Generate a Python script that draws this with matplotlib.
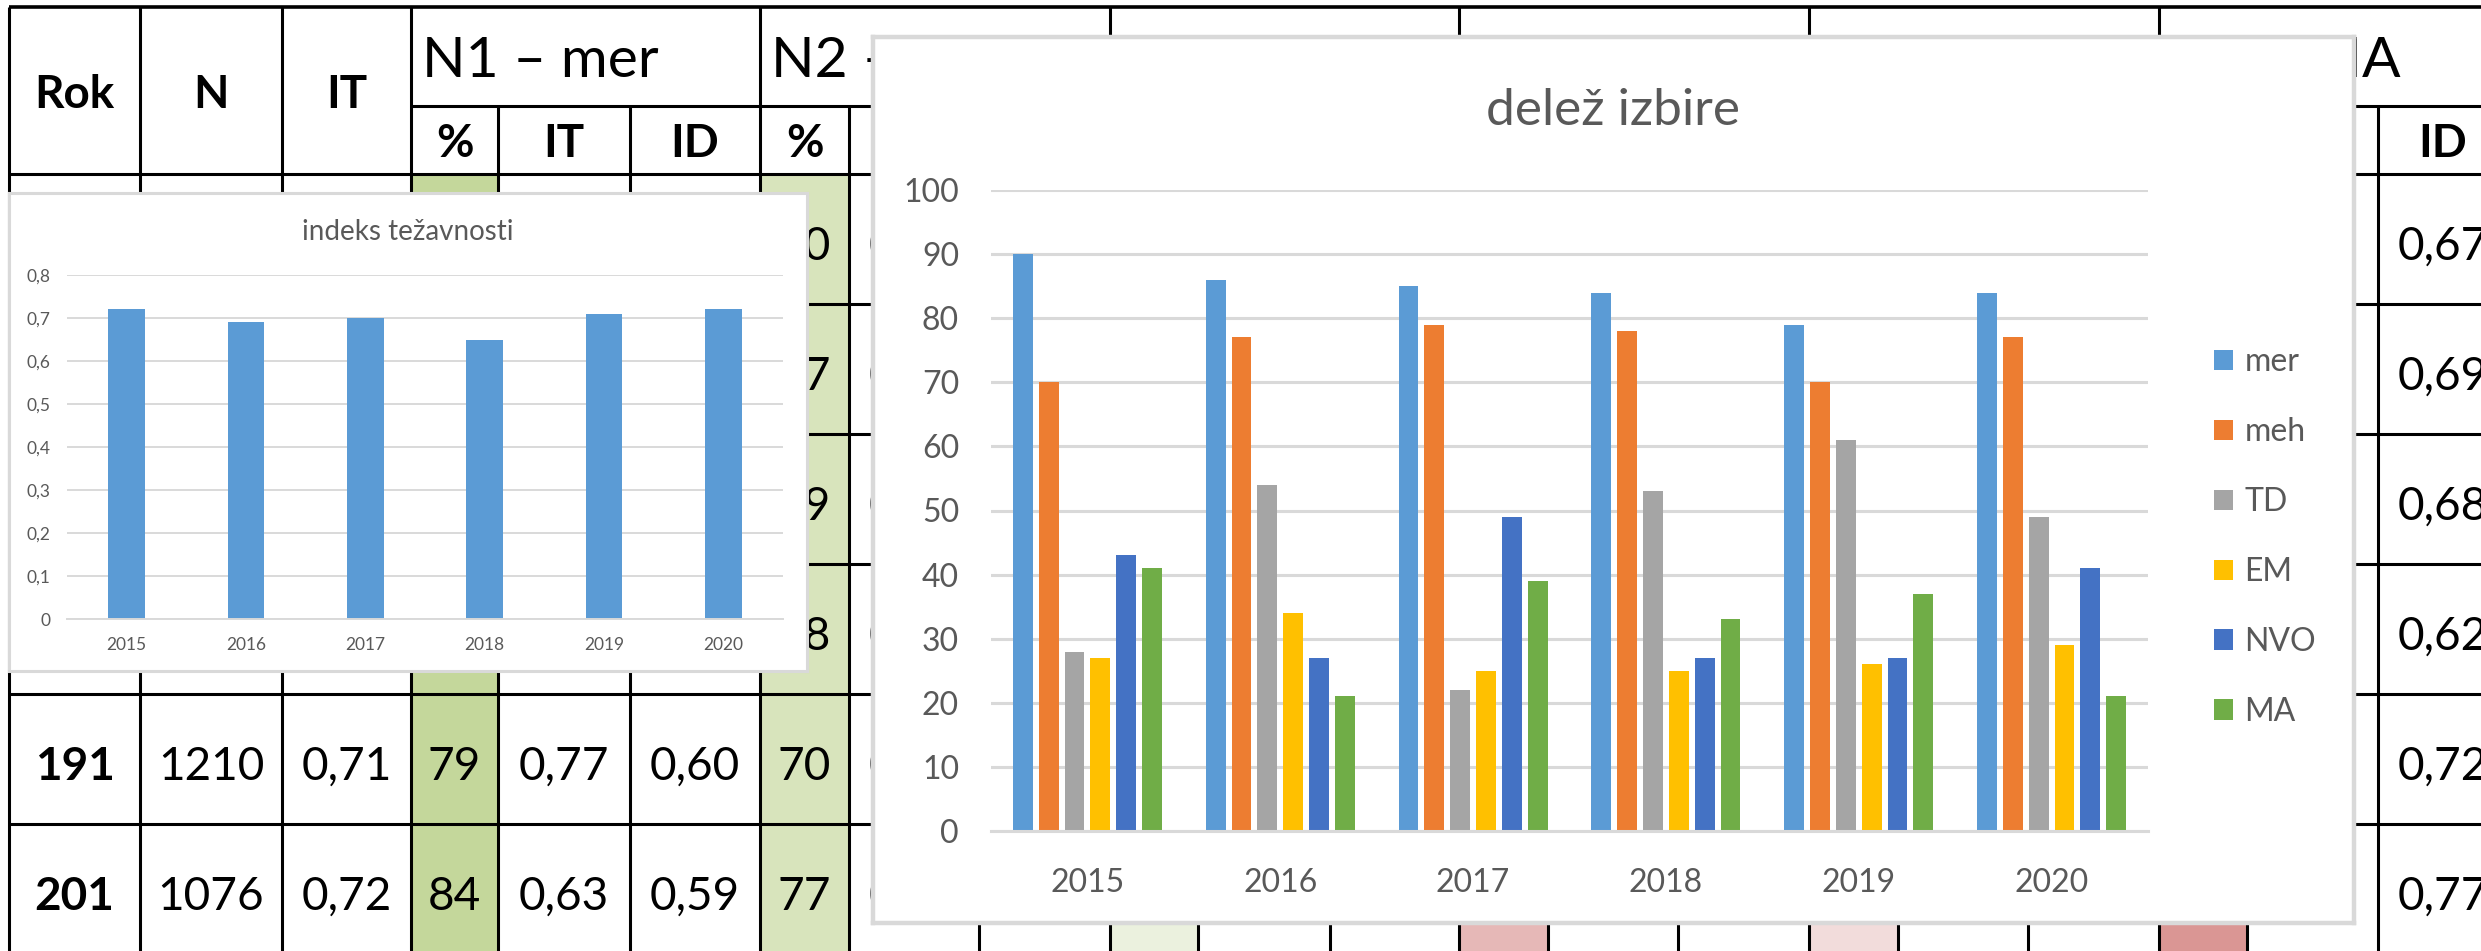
import matplotlib.pyplot as plt
import numpy as np

plt.rcParams['font.family'] = ['Lato', 'DejaVu Sans']

W, H = 2481, 951

years = ["2015", "2016", "2017", "2018", "2019", "2020"]

# indeks težavnosti (small chart)
difficulty = [0.72, 0.69, 0.70, 0.65, 0.71, 0.72]

# delež izbire (big chart)
series = ["mer", "meh", "TD", "EM", "NVO", "MA"]
share_mer = [90, 86, 85, 84, 79, 84]
share_meh = [70, 77, 79, 78, 70, 77]
share_td = [28, 54, 22, 53, 61, 49]
share_em = [27, 34, 25, 25, 26, 29]
share_nvo = [43, 27, 49, 27, 27, 41]
share_ma = [41, 21, 39, 33, 37, 21]
shares = [share_mer, share_meh, share_td, share_em, share_nvo, share_ma]
colors = ["#5b9bd5", "#ed7d31", "#a5a5a5", "#ffc000", "#4472c4", "#70ad47"]

# table in the background (mostly covered by the charts)
rok = ["", "", "", "", "191", "201"]
n_students = ["", "", "", "", "1210", "1076"]
n1_it = ["", "", "", "", "0,77", "0,63"]
n1_id = ["", "", "", "", "0,60", "0,59"]
n2_it = ["0,70", "0,71", "0,70", "0,72", "0,70", "0,71"]
n6_it = ["0,71", "0,73", "0,71", "0,71", "0,77", "0,75"]
n6_id = ["0,67", "0,69", "0,68", "0,62", "0,72", "0,77"]
group_names = ["N1 – mer", "N2 – meh", "N3 – TD", "N4 – EM", "N5 – NVO", "N6 – MA"]
pct_fill = ["#c4d79b", "#d8e4bc", "#ebf1de", "#e6b8b7", "#f2dcdb", "#da9694"]

col_x = [9, 140, 282, 411, 498, 630, 760, 849, 979, 1110, 1198, 1330,
         1459, 1548, 1678, 1809, 1898, 2028, 2159, 2247, 2378, 2508]
row_y = [7, 106, 174, 304, 434, 564, 694, 824, 954]

fig = plt.figure(figsize=(W / 100, H / 100), dpi=100)


def px_axes(x0, y0, x1, y1, z):
    return fig.add_axes([x0 / W, 1 - y1 / H, (x1 - x0) / W, (y1 - y0) / H], zorder=z)


# ---- table ----
ax_tab = px_axes(0, 0, W, H, 0)
ax_tab.set_xlim(0, W)
ax_tab.set_ylim(H, 0)
ax_tab.axis("off")

for g in range(6):
    x0 = col_x[3 + 3 * g]
    x1 = col_x[4 + 3 * g]
    ax_tab.add_patch(plt.Rectangle((x0, row_y[2]), x1 - x0, row_y[-1] - row_y[2],
                                   color=pct_fill[g], lw=0))

lw_tab = 2.2
ax_tab.hlines(row_y[0], col_x[0], 2600, color="black", lw=2.6)
ax_tab.hlines(row_y[1], col_x[3], 2600, color="black", lw=lw_tab)
ax_tab.hlines(row_y[2:], col_x[0], 2600, color="black", lw=lw_tab)
for j, x in enumerate(col_x):
    top = row_y[0] if (j <= 3 or j % 3 == 0) else row_y[1]
    ax_tab.vlines(x, top, row_y[-1], color="black", lw=lw_tab)


def cx(j):
    return (col_x[j] + col_x[j + 1]) / 2


head_y = (row_y[0] + row_y[2]) / 2
for j, name in enumerate(["Rok", "N", "IT"]):
    ax_tab.text(cx(j), head_y, name, ha="center", va="center_baseline",
                fontsize=33, fontweight="bold")
for g in range(6):
    ax_tab.text(col_x[3 + 3 * g] + 11, 77, group_names[g], ha="left", va="baseline",
                fontsize=41)
    for k, name in enumerate(["%", "IT", "ID"]):
        ax_tab.text(cx(3 + 3 * g + k), (row_y[1] + row_y[2]) / 2, name, ha="center",
                    va="center_baseline", fontsize=33, fontweight="bold")

columns = {
    0: rok,
    1: n_students,
    2: ["" if r == "" else f"{v:.2f}".replace(".", ",") for r, v in zip(rok, difficulty)],
    3: [str(v) for v in share_mer],
    4: n1_it,
    5: n1_id,
    6: [str(v) for v in share_meh],
    7: n2_it,
    19: n6_it,
    20: n6_id,
}
for j, vals in columns.items():
    for r, v in enumerate(vals):
        yc = (row_y[2 + r] + row_y[3 + r]) / 2 + 4
        ax_tab.text(cx(j), yc, v, ha="center", va="center_baseline", fontsize=33,
                    fontweight="bold" if j == 0 else "normal")

grey_txt = "#595959"
grid_c = "#d9d9d9"

# ---- small chart: indeks težavnosti ----
box_s = px_axes(9, 193, 807, 671, 2)
box_s.set_xticks([])
box_s.set_yticks([])
for sp in box_s.spines.values():
    sp.set_color(grid_c)
    sp.set_linewidth(2.2)
box_s.text(408, 240, "indeks težavnosti", transform=ax_tab.transData, ha="center",
           va="baseline", fontsize=20, color=grey_txt)

ax_s = px_axes(67, 275, 783, 619, 3)
ax_s.set_facecolor("none")
x = np.arange(len(years))
ax_s.bar(x, difficulty, width=0.31, color="#5b9bd5", zorder=2)
ax_s.set_xlim(-0.5, 5.5)
ax_s.set_ylim(0, 0.8)
yt = np.round(np.arange(0, 0.81, 0.1), 1)
ax_s.set_yticks(yt)
ax_s.set_yticklabels(["0" if v == 0 else f"{v:.1f}".replace(".", ",") for v in yt])
ax_s.set_xticks(x)
ax_s.set_xticklabels(years)
ax_s.yaxis.grid(True, color=grid_c, lw=1.4, zorder=0)
ax_s.set_axisbelow(True)
for s in ["top", "right", "left"]:
    ax_s.spines[s].set_visible(False)
ax_s.spines["bottom"].set_color(grid_c)
ax_s.spines["bottom"].set_linewidth(1.4)
ax_s.tick_params(axis="x", length=0, labelsize=12.5, colors=grey_txt, pad=13)
ax_s.tick_params(axis="y", length=0, labelsize=12.5, colors=grey_txt, pad=12)

# ---- big chart: delež izbire ----
box_b = px_axes(873, 37, 2354, 923, 4)
box_b.set_xticks([])
box_b.set_yticks([])
for sp in box_b.spines.values():
    sp.set_color(grid_c)
    sp.set_linewidth(3.2)
box_b.text(1613.5, 125, "delež izbire", transform=ax_tab.transData, ha="center",
           va="baseline", fontsize=37, color=grey_txt)

ax_b = px_axes(991, 190, 2148, 831, 5)
ax_b.set_facecolor("none")
bar_w = 0.103
pitch = 0.134
handles = []
for i, (vals, c) in enumerate(zip(shares, colors)):
    h = ax_b.bar(x + (i - 2.5) * pitch, vals, width=bar_w, color=c, zorder=2)
    handles.append(h)
ax_b.set_xlim(-0.5, 5.5)
ax_b.set_ylim(0, 100)
ax_b.set_yticks(np.arange(0, 101, 10))
ax_b.set_xticks(x)
ax_b.set_xticklabels(years)
ax_b.yaxis.grid(True, color=grid_c, lw=2.2, zorder=0)
ax_b.set_axisbelow(True)
for s in ["top", "right", "left"]:
    ax_b.spines[s].set_visible(False)
ax_b.spines["bottom"].set_color(grid_c)
ax_b.spines["bottom"].set_linewidth(2.2)
ax_b.tick_params(axis="x", length=0, labelsize=23, colors=grey_txt, pad=27)
ax_b.tick_params(axis="y", length=0, labelsize=23, colors=grey_txt, pad=23)

ax_b.legend(handles, series, loc="center left", bbox_to_anchor=(2214, 537),
            bbox_transform=ax_tab.transData, frameon=False, fontsize=23,
            handlelength=0.6, handleheight=0.6, handletextpad=0.35, labelspacing=1.25,
            borderpad=0, borderaxespad=0, labelcolor=grey_txt)

fig.savefig("out.png", dpi=100)
